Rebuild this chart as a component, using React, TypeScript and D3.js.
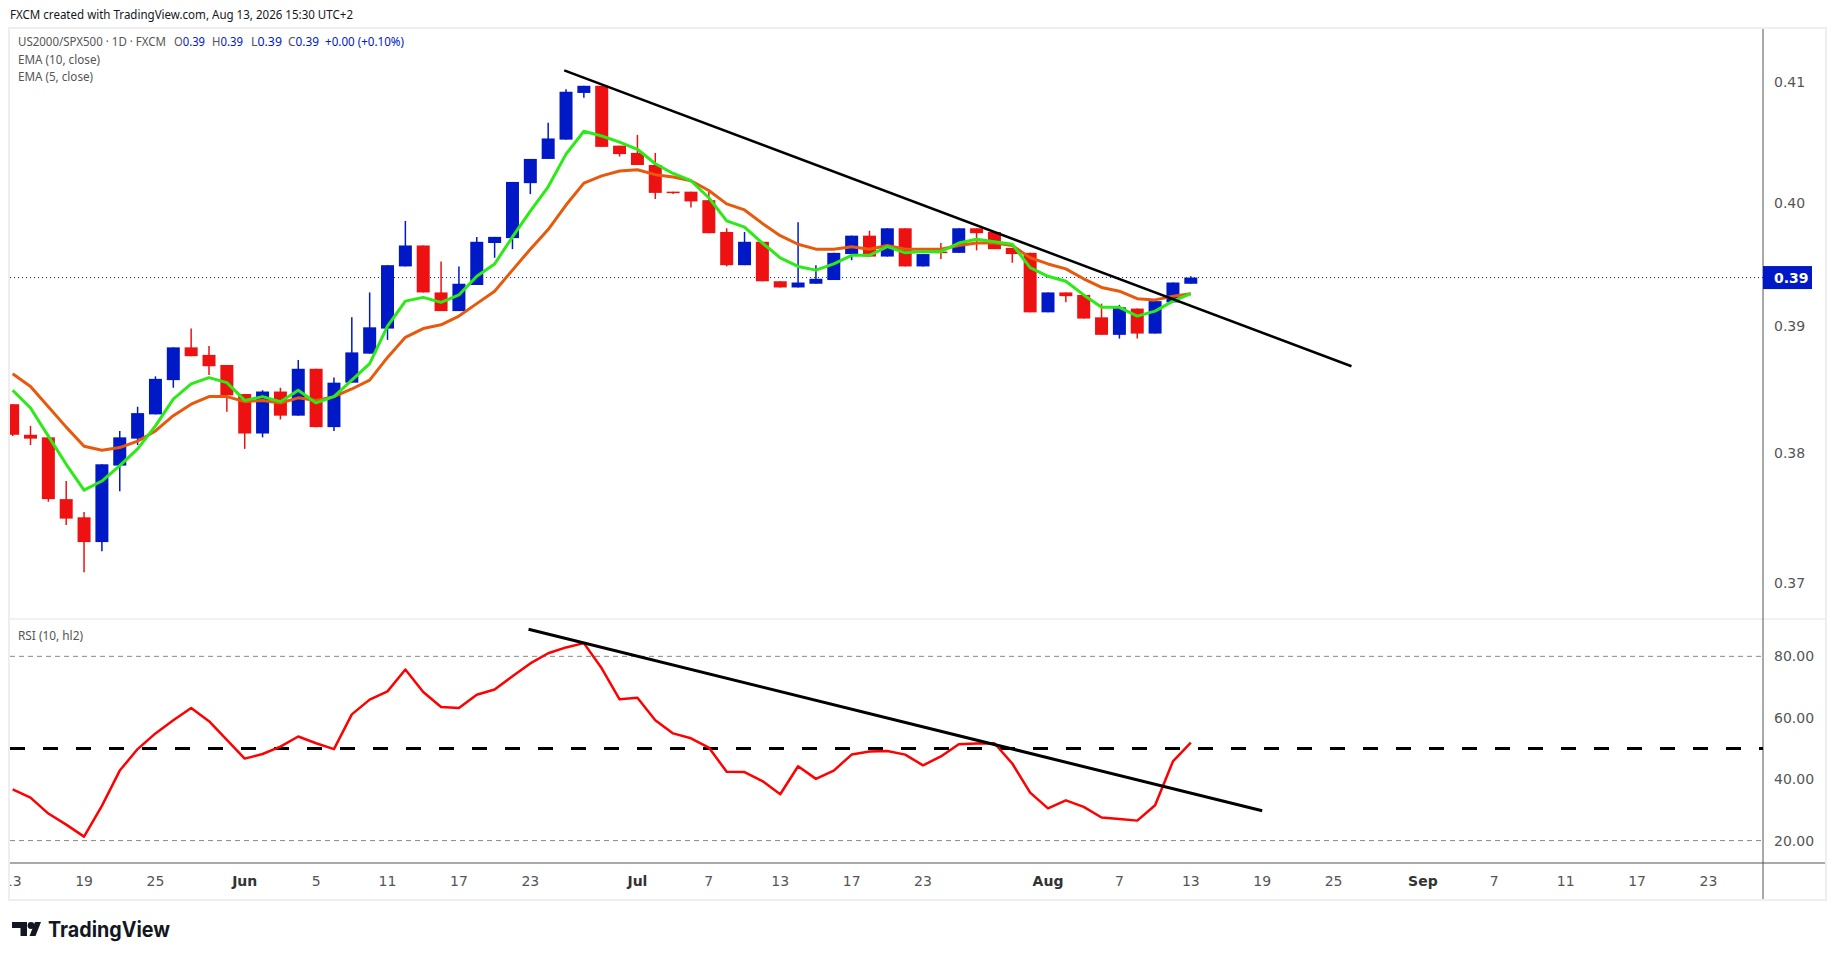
import React from 'react';
import * as d3 from 'd3';

// US2000/SPX500 daily candles (first bar = 13 May 2026)
const opens = [
  0.3838, 0.3814, 0.3812, 0.3764, 0.3750, 0.3731, 0.3790, 0.3811, 0.3830, 0.3857,
  0.3883, 0.3877, 0.3869, 0.3846, 0.3815, 0.3848, 0.3829, 0.3866, 0.3820, 0.3855,
  0.3878, 0.3898, 0.3948, 0.3965, 0.3927, 0.3912, 0.3933, 0.3967, 0.3971, 0.4016,
  0.4036, 0.4052, 0.4091, 0.4097, 0.4047, 0.4041, 0.4031, 0.4009, 0.4009, 0.4002,
  0.3976, 0.3949, 0.3968, 0.3936, 0.3931, 0.3934, 0.3937, 0.3958, 0.3973, 0.3956,
  0.3979, 0.3948, 0.3960, 0.3959, 0.3979, 0.3976, 0.3963, 0.3959, 0.3911, 0.3927,
  0.3925, 0.3907, 0.3893, 0.3914, 0.3894, 0.3919, 0.3934,
];
const highs = [
  0.3838, 0.3821, 0.3812, 0.3778, 0.3754, 0.3791, 0.3817, 0.3836, 0.3860, 0.3883,
  0.3898, 0.3884, 0.3869, 0.3846, 0.3849, 0.3851, 0.3873, 0.3866, 0.3859, 0.3907,
  0.3927, 0.3949, 0.3985, 0.3965, 0.3952, 0.3948, 0.3972, 0.3972, 0.4017, 0.4036,
  0.4066, 0.4094, 0.4097, 0.4097, 0.4047, 0.4056, 0.4041, 0.4009, 0.4009, 0.4009,
  0.3979, 0.3976, 0.3968, 0.3936, 0.3984, 0.3949, 0.3959, 0.3973, 0.3977, 0.3979,
  0.3979, 0.3958, 0.3967, 0.3979, 0.3979, 0.3976, 0.3963, 0.3959, 0.3927, 0.3927,
  0.3925, 0.3918, 0.3917, 0.3914, 0.3920, 0.3935, 0.3940,
];
const lows = [
  0.3813, 0.3806, 0.3762, 0.3744, 0.3708, 0.3724, 0.3770, 0.3806, 0.3830, 0.3851,
  0.3876, 0.3861, 0.3832, 0.3803, 0.3812, 0.3826, 0.3829, 0.3820, 0.3817, 0.3855,
  0.3878, 0.3889, 0.3948, 0.3927, 0.3912, 0.3912, 0.3933, 0.3955, 0.3962, 0.4007,
  0.4036, 0.4052, 0.4087, 0.4046, 0.4038, 0.4031, 0.4003, 0.4007, 0.3996, 0.3975,
  0.3948, 0.3949, 0.3936, 0.3931, 0.3931, 0.3934, 0.3937, 0.3953, 0.3956, 0.3956,
  0.3948, 0.3948, 0.3954, 0.3959, 0.3961, 0.3962, 0.3951, 0.3911, 0.3911, 0.3919,
  0.3906, 0.3893, 0.3890, 0.3890, 0.3894, 0.3919, 0.3934,
];
const closes = [
  0.3814, 0.3811, 0.3764, 0.3749, 0.3731, 0.3791, 0.3812, 0.3831, 0.3858, 0.3883,
  0.3876, 0.3868, 0.3845, 0.3815, 0.3848, 0.3829, 0.3866, 0.3820, 0.3855, 0.3879,
  0.3899, 0.3949, 0.3965, 0.3927, 0.3912, 0.3934, 0.3968, 0.3972, 0.4017, 0.4036,
  0.4053, 0.4092, 0.4097, 0.4046, 0.4040, 0.4031, 0.4008, 0.4008, 0.4001, 0.3975,
  0.3949, 0.3968, 0.3936, 0.3931, 0.3935, 0.3938, 0.3959, 0.3973, 0.3956, 0.3979,
  0.3948, 0.3958, 0.3959, 0.3979, 0.3975, 0.3962, 0.3958, 0.3911, 0.3927, 0.3924,
  0.3906, 0.3893, 0.3915, 0.3894, 0.3920, 0.3935, 0.3939,
];

// EMA (10, close) - orange
const ema10 = [
  0.3862, 0.3852, 0.3836, 0.3820, 0.3805, 0.3802, 0.3804, 0.3809, 0.3817, 0.3829,
  0.3838, 0.3844, 0.3844, 0.3840, 0.3841, 0.3839, 0.3843, 0.3841, 0.3844, 0.3850,
  0.3857, 0.3875, 0.3891, 0.3898, 0.3901, 0.3908, 0.3918, 0.3928, 0.3945, 0.3962,
  0.3978, 0.3998, 0.4016, 0.4022, 0.4026, 0.4027, 0.4023, 0.4021, 0.4018, 0.4010,
  0.3999, 0.3994, 0.3983, 0.3973, 0.3966, 0.3962, 0.3962, 0.3964, 0.3962, 0.3965,
  0.3962, 0.3962, 0.3962, 0.3965, 0.3967, 0.3967, 0.3965, 0.3955, 0.3950, 0.3946,
  0.3938, 0.3931, 0.3928, 0.3922, 0.3921, 0.3924, 0.3926,
];
// EMA (5, close) - green
const ema5 = [
  0.3849, 0.3835, 0.3813, 0.3791, 0.3771, 0.3778, 0.3790, 0.3803, 0.3821, 0.3842,
  0.3854, 0.3859, 0.3855, 0.3841, 0.3844, 0.3840, 0.3849, 0.3839, 0.3844, 0.3857,
  0.3870, 0.3900, 0.3920, 0.3923, 0.3919, 0.3925, 0.3940, 0.3950, 0.3972, 0.3993,
  0.4013, 0.4040, 0.4059, 0.4055, 0.4050, 0.4044, 0.4032, 0.4024, 0.4018, 0.4004,
  0.3985, 0.3980, 0.3967, 0.3955, 0.3948, 0.3945, 0.3950, 0.3957, 0.3957, 0.3964,
  0.3959, 0.3960, 0.3960, 0.3967, 0.3970, 0.3968, 0.3966, 0.3947, 0.3940, 0.3936,
  0.3925, 0.3915, 0.3915, 0.3908, 0.3912, 0.3920, 0.3926,
];
// RSI (10, hl2)
const rsi = [
  36.7, 34.0, 28.8, 25.2, 21.3, 31.3, 42.8, 49.8, 54.9, 59.2,
  63.2, 58.9, 52.8, 46.7, 48.2, 50.6, 53.9, 51.7, 49.8, 61.1,
  65.9, 68.6, 75.7, 68.4, 63.5, 63.2, 67.5, 69.2, 73.5, 77.7,
  81.0, 82.9, 84.3, 76.1, 66.0, 66.5, 59.2, 54.9, 53.3, 50.3,
  42.4, 42.3, 39.4, 35.1, 44.2, 40.1, 42.8, 48.0, 49.0, 49.2,
  48.0, 44.5, 47.4, 51.4, 51.6, 51.7, 45.1, 35.6, 30.5, 33.1,
  31.0, 27.5, 27.0, 26.5, 31.5, 45.8, 51.9,
];

// drawn trend lines: [bar index, value]
const priceTrend: [number, number][] = [[30.9, 0.4110], [75.0, 0.3868]];
const rsiTrend: [number, number][] = [[28.9, 88.8], [70.0, 29.7]];

const priceTicks = [0.41, 0.40, 0.39, 0.38, 0.37];
const rsiTicks = [80, 60, 40, 20];
const dateTicks: [string, string][] = [
  ['2026-05-13', '13'], ['2026-05-19', '19'], ['2026-05-25', '25'], ['2026-06-01', 'Jun'],
  ['2026-06-05', '5'], ['2026-06-11', '11'], ['2026-06-17', '17'], ['2026-06-23', '23'],
  ['2026-07-01', 'Jul'], ['2026-07-07', '7'], ['2026-07-13', '13'], ['2026-07-17', '17'],
  ['2026-07-23', '23'], ['2026-08-03', 'Aug'], ['2026-08-07', '7'], ['2026-08-13', '13'],
  ['2026-08-19', '19'], ['2026-08-25', '25'], ['2026-09-01', 'Sep'], ['2026-09-07', '7'],
  ['2026-09-11', '11'], ['2026-09-17', '17'], ['2026-09-23', '23'],
];
// legend values: label, value, x position
const ohlcLegend: [string, string, number][] = [
  ['O', '0.39', 174], ['H', '0.39', 212], ['L', '0.39', 251], ['C', '0.39', 288],
];
const lastPrice = 0.3939;

const BLUE = '#0019c6';
const RED = '#ee1111';
const AXIS_FONT = '"DejaVu Sans", sans-serif';
const UI_FONT = '"Noto Sans", sans-serif';

// layout
const W = 1835;
const H = 959;
const left = 10;
const axisX = 1763;
const frameRight = 1825;
const priceTop = 29;
const priceBottom = 619;
const rsiBottom = 863;
const frameBottom = 899;

const App = () => {
  // trading days (weekdays) starting at the first bar
  const parse = d3.timeParse('%Y-%m-%d');
  const days = d3.timeDay
    .range(new Date(2026, 4, 13), new Date(2026, 8, 30))
    .filter(d => d.getDay() !== 0 && d.getDay() !== 6);
  const dayIndex = (s: string) => days.findIndex(d => +d === +(parse(s) as Date));

  // scales
  const x = d3.scaleLinear().domain([0, 66]).range([12.65, 1190.8]);
  const y = d3.scaleLog().domain([0.36726, 0.4145]).range([priceBottom, priceTop]);
  const yr = d3.scaleLinear().domain([12.7, 92.16]).range([rsiBottom, priceBottom]);

  const idx = d3.range(closes.length);
  const priceLine = (vals: number[]) =>
    d3.line<number>().x(i => x(i)).y(i => y(vals[i]))(idx) || '';
  const rsiPath = d3.line<number>().x(i => x(i)).y(i => yr(rsi[i]))(idx) || '';
  const bodyW = 13;

  return (
    <svg width={W} height={H} style={{ position: 'absolute', left: 0, top: 0, background: '#fff' }}>
      <defs>
        <clipPath id="pricePane">
          <rect x={left} y={priceTop} width={axisX - left} height={priceBottom - priceTop} />
        </clipPath>
        <clipPath id="rsiPane">
          <rect x={left} y={priceBottom} width={axisX - left} height={rsiBottom - priceBottom} />
        </clipPath>
        <clipPath id="datePane">
          <rect x={left} y={rsiBottom} width={axisX - left} height={frameBottom - rsiBottom} />
        </clipPath>
      </defs>

      {/* header */}
      <text x={10} y={19} fontFamily={UI_FONT} fontSize={13} fill="#131722" textLength={343} lengthAdjust="spacingAndGlyphs">
        FXCM created with TradingView.com, Aug 13, 2026 15:30 UTC+2
      </text>

      {/* frame */}
      <rect x={left - 1} y={priceTop - 1} width={frameRight - left + 2} height={frameBottom - priceTop + 2}
        fill="none" stroke="#eeeeee" strokeWidth={2} />
      <line x1={left} x2={frameRight} y1={priceBottom} y2={priceBottom} stroke="#e0e3eb" />
      <line x1={left} x2={frameRight} y1={rsiBottom} y2={rsiBottom} stroke="#555" />
      <line x1={axisX} x2={axisX} y1={priceTop} y2={frameBottom} stroke="#555" />

      {/* price pane */}
      <g clipPath="url(#pricePane)">
        <line x1={left} x2={axisX} y1={y(lastPrice)} y2={y(lastPrice)} stroke={BLUE} strokeWidth={1} strokeDasharray="1 3" />
        {idx.map(i => {
          const up = closes[i] >= opens[i];
          const c = up ? BLUE : RED;
          const top = y(Math.max(opens[i], closes[i]));
          const bot = y(Math.min(opens[i], closes[i]));
          return (
            <g key={i}>
              <line x1={x(i)} x2={x(i)} y1={y(highs[i])} y2={y(lows[i])} stroke={c} strokeWidth={1.5} />
              <rect x={x(i) - bodyW / 2} y={top} width={bodyW} height={Math.max(1.5, bot - top)} fill={c} />
            </g>
          );
        })}
        <path d={priceLine(ema10)} fill="none" stroke="#e8590c" strokeWidth={3} strokeLinejoin="round" />
        <path d={priceLine(ema5)} fill="none" stroke="#2bea15" strokeWidth={3} strokeLinejoin="round" />
        <line x1={x(priceTrend[0][0])} y1={y(priceTrend[0][1])} x2={x(priceTrend[1][0])} y2={y(priceTrend[1][1])}
          stroke="#000" strokeWidth={2.5} />
      </g>

      {/* legend */}
      <text x={18} y={46} fontFamily={UI_FONT} fontSize={12} fill="#555" textLength={148} lengthAdjust="spacingAndGlyphs">
        US2000/SPX500 · 1D · FXCM
      </text>
      {ohlcLegend.map(([k, v, px]) => (
        <text key={k} x={px} y={46} fontFamily={UI_FONT} fontSize={12} textLength={31} lengthAdjust="spacingAndGlyphs">
          <tspan fill="#555">{k}</tspan>
          <tspan fill={BLUE}>{v}</tspan>
        </text>
      ))}
      <text x={325} y={46} fontFamily={UI_FONT} fontSize={12} fill={BLUE} textLength={79} lengthAdjust="spacingAndGlyphs">
        +0.00 (+0.10%)
      </text>
      <text x={18} y={63.5} fontFamily={UI_FONT} fontSize={13} fill="#555" textLength={82} lengthAdjust="spacingAndGlyphs">
        EMA (10, close)
      </text>
      <text x={18} y={80.5} fontFamily={UI_FONT} fontSize={13} fill="#555" textLength={75} lengthAdjust="spacingAndGlyphs">
        EMA (5, close)
      </text>

      {/* price axis */}
      {priceTicks.map(t => (
        <text key={t} x={1774} y={y(t) + 5} fontFamily={AXIS_FONT} fontSize={14} fill="#555">
          {d3.format('.2f')(t)}
        </text>
      ))}
      <rect x={axisX} y={y(lastPrice) - 11.5} width={49} height={23} fill={BLUE} />
      <text x={1774} y={y(lastPrice) + 5} fontFamily={AXIS_FONT} fontSize={14} fontWeight="bold" fill="#fff">
        {d3.format('.2f')(lastPrice)}
      </text>

      {/* RSI pane */}
      <g clipPath="url(#rsiPane)">
        {[80, 20].map(v => (
          <line key={v} x1={left} x2={axisX} y1={yr(v)} y2={yr(v)} stroke="#888" strokeDasharray="5 4" />
        ))}
        <line x1={left} x2={axisX} y1={yr(50)} y2={yr(50)} stroke="#000" strokeWidth={3} strokeDasharray="15 18" />
        <path d={rsiPath} fill="none" stroke="#ff0000" strokeWidth={2.5} strokeLinejoin="round" />
        <line x1={x(rsiTrend[0][0])} y1={yr(rsiTrend[0][1])} x2={x(rsiTrend[1][0])} y2={yr(rsiTrend[1][1])}
          stroke="#000" strokeWidth={3} />
      </g>
      <text x={18} y={639.5} fontFamily={UI_FONT} fontSize={13} fill="#555" textLength={65} lengthAdjust="spacingAndGlyphs">
        RSI (10, hl2)
      </text>
      {rsiTicks.map(t => (
        <text key={t} x={1774} y={yr(t) + 5} fontFamily={AXIS_FONT} fontSize={14} fill="#555">
          {d3.format('.2f')(t)}
        </text>
      ))}

      {/* date axis */}
      <g clipPath="url(#datePane)">
        {dateTicks.map(([d, label]) => {
          const month = /[A-Za-z]/.test(label);
          return (
            <text key={d} x={x(dayIndex(d))} y={886} textAnchor="middle" fontFamily={AXIS_FONT} fontSize={14}
              fontWeight={month ? 'bold' : 'normal'} fill={month ? '#333' : '#555'}>
              {label}
            </text>
          );
        })}
      </g>

      {/* TradingView logo */}
      <g fill="#131722">
        <path d="M12 922 h15 v14 h-6.5 v-8 h-8.5 z" />
        <circle cx={31} cy={925.5} r={3.4} />
        <path d="M35.5 936 l5.5 -14 h-6 l-5.5 14 z" />
      </g>
      <text x={48} y={937} fontFamily='Inter, "Noto Sans", sans-serif' fontSize={21} fontWeight="bold" fill="#131722"
        textLength={122} lengthAdjust="spacingAndGlyphs">
        TradingView
      </text>
    </svg>
  );
};

export default App;
